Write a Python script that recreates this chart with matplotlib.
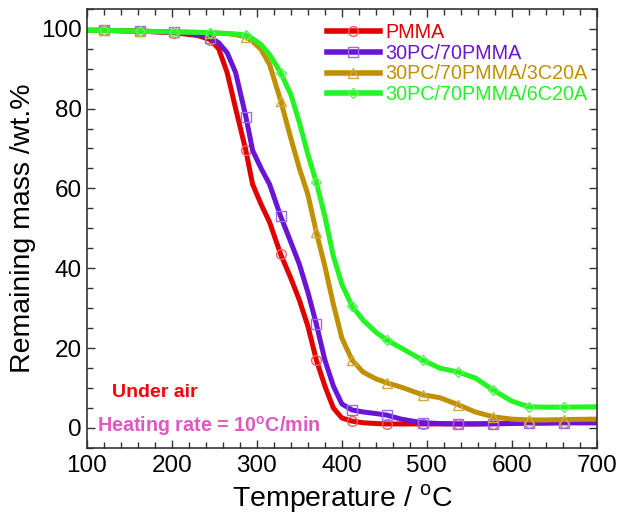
import numpy as np
import matplotlib
matplotlib.use("Agg")
import matplotlib.pyplot as plt
from matplotlib.ticker import MultipleLocator

plt.rcParams['font.family'] = ['Liberation Sans', 'DejaVu Sans']

# temperature grid (degC), shared by all four TGA curves
temp = [100, 120, 162, 203, 230, 245, 255, 265, 275, 287, 295, 305, 315, 328, 340,
        350, 360, 370, 380, 390, 400, 412, 425, 440, 453, 470, 495, 515, 537, 557,
        578, 600, 620, 640, 662, 700]
# temperatures where the open symbols sit
marker_temp = [120, 162, 203, 245, 287, 328, 370, 412, 453, 495, 537, 578, 620, 662]

pmma = [99.6, 99.6, 99.4, 99.0, 98.3, 97.3, 95.0, 89.0, 80.0, 69.5, 61.0, 56.0, 51.5, 43.5, 37.5,
        32.0, 25.5, 17.0, 10.5, 5.0, 2.5, 1.7, 1.3, 1.1, 1.0, 1.0, 1.0, 1.0, 1.0, 1.0,
        1.1, 1.2, 1.2, 1.3, 1.3, 1.3]
pc_pmma = [99.6, 99.6, 99.4, 99.1, 98.5, 97.8, 96.5, 94.0, 89.0, 78.0, 69.5, 65.0, 61.0, 53.0, 46.5,
           41.0, 34.0, 26.0, 17.0, 10.5, 6.0, 4.5, 4.0, 3.6, 3.2, 2.2, 1.3, 1.1, 1.0, 1.0,
           1.0, 1.1, 1.2, 1.2, 1.3, 1.3]
pc_pmma_3c = [99.6, 99.6, 99.4, 99.2, 99.1, 99.0, 98.9, 98.8, 98.5, 98.0, 96.8, 94.8, 91.0, 82.0, 72.5,
              65.0, 58.5, 49.0, 40.5, 31.0, 22.5, 17.0, 14.0, 12.3, 11.3, 10.2, 8.3, 7.6, 5.8, 4.0,
              2.8, 2.2, 2.0, 2.0, 2.1, 2.2]
pc_pmma_6c = [99.6, 99.6, 99.4, 99.2, 99.1, 99.0, 98.9, 98.8, 98.7, 98.4, 97.5, 96.0, 93.5, 89.0, 83.5,
              76.5, 68.5, 61.5, 53.0, 43.0, 36.0, 30.5, 27.0, 24.0, 22.0, 20.0, 17.0, 15.0, 14.0, 12.5,
              9.5, 6.7, 5.3, 5.2, 5.2, 5.3]

labels = ["PMMA", "30PC/70PMMA", "30PC/70PMMA/3C20A", "30PC/70PMMA/6C20A"]
colors = ["#e00000", "#6a14d8", "#c09000", "#22f522"]
mcolors = ["#f06060", "#9a6ae8", "#d0aa40", "#60f060"]
markers = ["o", "s", "^", "D"]
series = [pmma, pc_pmma, pc_pmma_3c, pc_pmma_6c]

fig = plt.figure(figsize=(6.21, 5.16), dpi=100)
ax = fig.add_axes([0.140, 0.132, 0.821, 0.851])

T = np.array(temp)
mask = np.isin(T, marker_temp)
for y, lab, c, mc, mk in zip(series, labels, colors, mcolors, markers):
    ms = 5.5 if mk == "D" else 7
    ax.plot(T, y, color=c, lw=3.6, label=lab, marker=mk, markevery=list(mask),
            ms=ms, mfc="none", mec=mc, mew=1.0)

ax.set_xlim(100, 700)
ax.set_ylim(-5, 105)
ax.xaxis.set_major_locator(MultipleLocator(100))
ax.xaxis.set_minor_locator(MultipleLocator(20))
ax.yaxis.set_major_locator(MultipleLocator(20))
ax.yaxis.set_minor_locator(MultipleLocator(5))
ax.tick_params(which="both", direction="in", top=True, right=True, labelsize=17.5, color="#333333")
ax.tick_params(which="major", length=6, width=1)
ax.tick_params(which="minor", length=4, width=1)
ax.tick_params(axis="x", pad=5)
for s in ax.spines.values():
    s.set_color("#333333"); s.set_linewidth(1.2)

ax.set_xlabel("Temperature / $^{\\mathregular{o}}$C", fontsize=20.5, labelpad=4)
ax.set_ylabel("Remaining mass /wt.%", fontsize=20.5, labelpad=4)

leg = ax.legend(loc="upper left", bbox_to_anchor=(0.455, 0.985), frameon=False, fontsize=14.2,
                handlelength=2.7, handletextpad=0.25, labelspacing=0.08, borderaxespad=0)
for txt, c in zip(leg.get_texts(), colors):
    txt.set_color(c)
for h in leg.get_lines():
    h.set_linewidth(4)

ax.text(130, 8.8, "Under air", color="#ff0000", fontsize=14, fontweight="bold", va="center")
ax.text(112, 0.5, "Heating rate = 10$^{\\mathregular{o}}$C/min", color="#e058c0", fontsize=14.2,
        fontweight="bold", va="center")

fig.savefig("out.png", dpi=100)
